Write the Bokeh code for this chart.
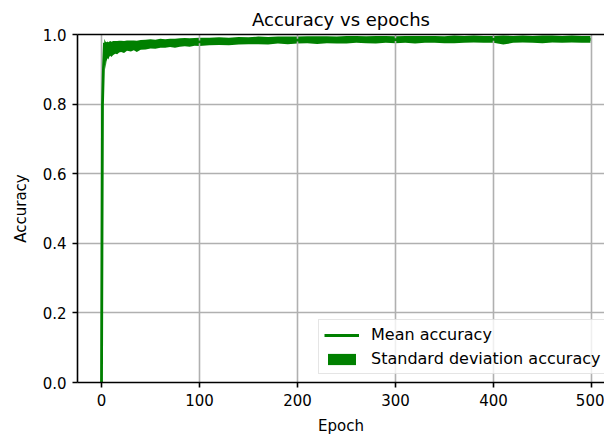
from bokeh.plotting import figure
from bokeh.models import (ColumnDataSource, LinearAxis, FixedTicker, PrintfTickFormatter,
                          Legend, LegendItem, Range1d)
from bokeh.embed import file_html
from bokeh.resources import INLINE

epochs = [0, 1, 2, 3, 4, 5, 6, 7, 8, 9, 10, 12, 14, 16, 18, 20, 23, 26, 30, 33, 36, 40,
          45, 50, 55, 60, 65, 70, 75, 80, 85, 90, 95, 100, 110, 120, 130, 140, 150, 160,
          170, 180, 190, 200, 210, 220, 230, 240, 250, 260, 270, 280, 290, 300, 310, 320,
          330, 340, 350, 360, 370, 380, 390, 400, 410, 420, 430, 440, 450, 460, 470, 480,
          490, 499]
mean_acc = [0.000, 0.800, 0.905, 0.976, 0.940, 0.950, 0.956, 0.953, 0.958, 0.960, 0.957,
            0.961, 0.963, 0.962, 0.965, 0.966, 0.964, 0.968, 0.967, 0.969, 0.966, 0.970,
            0.971, 0.973, 0.972, 0.975, 0.974, 0.976, 0.975, 0.977, 0.978, 0.977, 0.979,
            0.979, 0.980, 0.981, 0.980, 0.982, 0.982, 0.983, 0.982, 0.984, 0.983, 0.984,
            0.985, 0.984, 0.985, 0.984, 0.985, 0.986, 0.985, 0.985, 0.986, 0.985, 0.986,
            0.985, 0.986, 0.986, 0.985, 0.986, 0.986, 0.987, 0.986, 0.986, 0.984, 0.986,
            0.987, 0.986, 0.986, 0.987, 0.986, 0.987, 0.986, 0.986]
std_acc = [0.000, 0.030, 0.030, 0.012, 0.040, 0.028, 0.024, 0.025, 0.022, 0.021, 0.022,
           0.020, 0.018, 0.019, 0.017, 0.016, 0.017, 0.015, 0.016, 0.014, 0.016, 0.014,
           0.014, 0.013, 0.013, 0.013, 0.012, 0.012, 0.013, 0.012, 0.012, 0.012, 0.011,
           0.012, 0.011, 0.011, 0.011, 0.011, 0.010, 0.011, 0.011, 0.010, 0.011, 0.010,
           0.010, 0.011, 0.010, 0.010, 0.011, 0.010, 0.010, 0.011, 0.010, 0.010, 0.010,
           0.011, 0.010, 0.010, 0.010, 0.011, 0.010, 0.010, 0.010, 0.010, 0.013, 0.010,
           0.010, 0.010, 0.011, 0.010, 0.010, 0.010, 0.010, 0.010]

x_ticks = [0, 100, 200, 300, 400, 500]
y_ticks = [0.0, 0.2, 0.4, 0.6, 0.8, 1.0]

src = ColumnDataSource(dict(
    x=epochs, m=mean_acc,
    lo=[a - b for a, b in zip(mean_acc, std_acc)],
    hi=[a + b for a, b in zip(mean_acc, std_acc)],
))

FONT = "DejaVu Sans"

p = figure(width=604, height=437, output_backend="svg", toolbar_location=None,
           x_range=Range1d(-24.5, 513.3), y_range=Range1d(0, 1),
           min_border_left=77, min_border_right=0, min_border_top=34, min_border_bottom=55,
           background_fill_color="white", border_fill_color="white")
p.outline_line_color = None

p.title.text = "Accuracy vs epochs"
p.title.align = "center"
p.title.text_font = FONT
p.title.text_font_size = "18px"
p.title.text_font_style = "normal"
p.title.text_color = "black"

band = p.varea(x="x", y1="lo", y2="hi", source=src, fill_color="#008000",
               fill_alpha=1.0, level="image")
line = p.line(x="x", y="m", source=src, line_color="#008000", line_width=2.8)

for ax in (p.xaxis[0], p.yaxis[0]):
    ax.axis_line_color = "black"
    ax.axis_line_width = 1.6
    ax.major_tick_line_color = "black"
    ax.major_tick_line_width = 1.6
    ax.major_tick_out = 5
    ax.major_tick_in = 0
    ax.minor_tick_line_color = None
    ax.major_label_text_font = FONT
    ax.major_label_text_font_size = "15px"
    ax.major_label_text_color = "black"
    ax.axis_label_text_font = FONT
    ax.axis_label_text_font_size = "15px"
    ax.axis_label_text_font_style = "normal"
    ax.axis_label_text_color = "black"

p.xaxis[0].ticker = FixedTicker(ticks=x_ticks)
p.yaxis[0].ticker = FixedTicker(ticks=y_ticks)
p.yaxis[0].formatter = PrintfTickFormatter(format="%.1f")
p.xaxis[0].axis_label = "Epoch"
p.yaxis[0].axis_label = "Accuracy"
p.xaxis[0].major_label_standoff = 6
p.yaxis[0].major_label_standoff = 6
p.xaxis[0].axis_label_standoff = 8
p.yaxis[0].axis_label_standoff = 10

top = LinearAxis(ticker=FixedTicker(ticks=[]), axis_line_color="black", axis_line_width=1.6,
                 major_tick_line_color=None, minor_tick_line_color=None,
                 major_label_text_font_size="0px")
p.add_layout(top, "above")

p.xgrid.ticker = FixedTicker(ticks=x_ticks)
p.ygrid.ticker = FixedTicker(ticks=y_ticks)
for g in (p.xgrid[0], p.ygrid[0]):
    g.grid_line_color = "#b0b0b0"
    g.grid_line_width = 1.6

legend = Legend(items=[LegendItem(label="Mean accuracy", renderers=[line]),
                       LegendItem(label="Standard deviation accuracy", renderers=[band])],
                location=(241, 8))
legend.label_text_font = FONT
legend.label_text_font_size = "16px"
legend.label_text_color = "black"
legend.glyph_width = 35
legend.glyph_height = 14
legend.label_height = 16
legend.label_standoff = 12
legend.spacing = 5
legend.padding = 5
legend.margin = 0
legend.border_line_color = "#cccccc"
legend.border_line_width = 1
legend.background_fill_alpha = 0.8
p.add_layout(legend)

open("out.html", "w").write(file_html(p, INLINE))
